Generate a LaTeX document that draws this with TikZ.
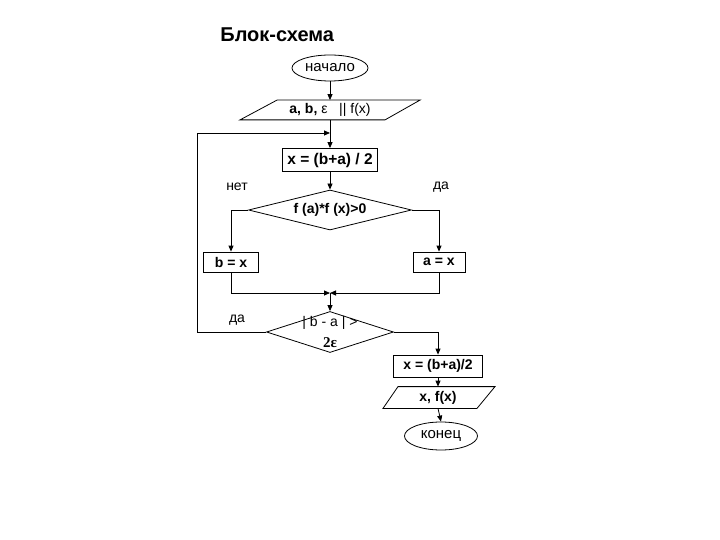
\documentclass[tikz,border=0pt]{standalone}
\usepackage{fontspec}
\setmainfont{Liberation Sans}
\newfontfamily\serifnum{Liberation Serif}
\usetikzlibrary{arrows.meta,shapes.geometric}
\begin{document}
\begin{tikzpicture}[x=1pt,y=-1pt,
  line width=0.8pt,
  arr/.style={-{Triangle[length=6pt,width=5pt]}},
  procbox/.style={draw,rectangle,inner sep=0pt,font=\fontsize{14}{16}\selectfont\bfseries},
  termin/.style={draw,ellipse,inner sep=0pt,font=\fontsize{15}{17}\selectfont},
  iobox/.style={rectangle,inner sep=0pt,font=\fontsize{14}{16}\selectfont},
  decide/.style={draw,diamond,inner sep=0pt,aspect=4},
  lbl/.style={inner sep=0pt,font=\fontsize{14}{16}\selectfont}]
\useasboundingbox (0,0) rectangle (720,540);
\fill[white] (0,0) rectangle (720,540);

\node[inner sep=0pt,anchor=west,font=\fontsize{20}{22}\selectfont\bfseries] (title) at (220,35) {Блок-схема};

\node[termin,minimum width=76pt,minimum height=26pt] (start) at (330,68) {начало};

\node[iobox,minimum width=145pt,minimum height=19pt] (in) at (330,110)
  {\textbf{a, b,} ε \ \ || f(x)};
\draw ([xshift=-90pt]in.south) -- ([xshift=55pt]in.south) -- ([xshift=90pt]in.north) -- ([xshift=-53pt]in.north) -- cycle;

\coordinate (j1) at (330,133);
\coordinate (lp) at (197,133);

\node[procbox,minimum width=95pt,minimum height=23pt,font=\fontsize{15.5}{17}\selectfont\bfseries] (calc) at (330,160) {x = (b+a) / 2};

\node[lbl] (no1) at (237,187) {нет};
\node[lbl] (yes1) at (441,187) {да};

\node[decide,minimum width=163pt,minimum height=40pt,font=\fontsize{14}{16}\selectfont\bfseries] (d1) at (330,210) {f (a)*f (x)>0};

\node[procbox,minimum width=55pt,minimum height=20pt] (bx) at (231,262) {b = x};
\node[procbox,minimum width=52pt,minimum height=20pt] (ax) at (439,262) {a = x};

\coordinate (m) at (330,293);

\node[decide,minimum width=127pt,minimum height=41pt] (d2) at (330,332) {};
\node[lbl] (d2a) at (330,323) {| b - a | >};
\node[inner sep=0pt,font=\fontsize{15}{17}\selectfont\serifnum\bfseries] (d2b) at (330,343) {2ε};
\node[lbl] (yes2) at (237,320) {да};

\node[procbox,minimum width=89pt,minimum height=22pt] (res) at (438,366) {x = (b+a)/2};

\node[iobox,minimum width=80pt,minimum height=21pt,font=\fontsize{14}{16}\selectfont\bfseries] (out) at (438,397.5) {x, f(x)};
\draw ([xshift=-55pt]out.south) -- ([xshift=39pt]out.south) -- ([xshift=57pt]out.north) -- ([xshift=-40pt]out.north) -- cycle;

\node[termin,minimum width=73pt,minimum height=28pt] (stop) at (441,436) {конец};

% connectors
\draw[arr] (start) -- (in.north);
\draw[arr] (in.south) -- (calc.north);
\draw[arr] (d2.west) -| (lp) -- (j1);
\draw[arr] (calc.south) -- (d1.north);
\draw[arr] (d1.west) -| (bx.north);
\draw[arr] (d1.east) -| (ax.north);
\draw[arr] (bx.south) |- (m);
\draw[arr] (ax.south) |- (m);
\draw[arr] (m) -- (d2.north);
\draw[arr] (d2.east) -| (res.north);
\draw[arr] (res.south) -- (out.north);
\draw[arr] (out.south) -- (stop.north);
\end{tikzpicture}
\end{document}
